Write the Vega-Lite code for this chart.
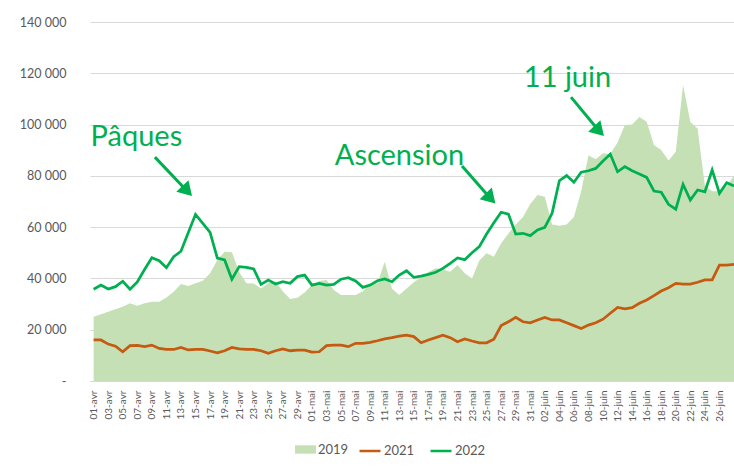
{
 "$schema": "https://vega.github.io/schema/vega-lite/v6.json",
 "width": 644,
 "height": 359,
 "autosize": {"type": "none"},
 "padding": {"left": 90, "top": 22, "right": 0, "bottom": 85},
 "background": "white",
 "config": {
  "view": {"stroke": null},
  "font": "Lato",
  "axis": {"labelFont": "Lato", "labelColor": "#595959", "title": null},
  "legend": {"labelFont": "Lato", "labelFontSize": 13, "labelColor": "#595959", "symbolSize": 441, "symbolStrokeWidth": 2.5, "labelOffset": 2, "columnPadding": 10, "padding": 0, "title": null}
 },
 "datasets": {
  "main": [
   {"date": "2022-04-01", "2019": 25100, "2021": 16000, "2022": 35800},
   {"date": "2022-04-02", "2019": 26000, "2021": 16000, "2022": 37400},
   {"date": "2022-04-03", "2019": 27000, "2021": 14400, "2022": 35900},
   {"date": "2022-04-04", "2019": 28000, "2021": 13600, "2022": 36800},
   {"date": "2022-04-05", "2019": 29000, "2021": 11400, "2022": 38900},
   {"date": "2022-04-06", "2019": 30300, "2021": 13800, "2022": 35800},
   {"date": "2022-04-07", "2019": 29300, "2021": 13900, "2022": 38600},
   {"date": "2022-04-08", "2019": 30300, "2021": 13400, "2022": 43500},
   {"date": "2022-04-09", "2019": 30900, "2021": 14000, "2022": 48100},
   {"date": "2022-04-10", "2019": 30900, "2021": 12700, "2022": 46900},
   {"date": "2022-04-11", "2019": 32600, "2021": 12300, "2022": 44200},
   {"date": "2022-04-12", "2019": 34800, "2021": 12300, "2022": 48500},
   {"date": "2022-04-13", "2019": 37800, "2021": 13100, "2022": 50600},
   {"date": "2022-04-14", "2019": 37000, "2021": 12100, "2022": 57800},
   {"date": "2022-04-15", "2019": 38100, "2021": 12300, "2022": 65000},
   {"date": "2022-04-16", "2019": 39100, "2021": 12300, "2022": 61500},
   {"date": "2022-04-17", "2019": 42000, "2021": 11700, "2022": 58000},
   {"date": "2022-04-18", "2019": 47200, "2021": 11000, "2022": 47900},
   {"date": "2022-04-19", "2019": 50400, "2021": 11800, "2022": 47200},
   {"date": "2022-04-20", "2019": 50200, "2021": 13100, "2022": 39700},
   {"date": "2022-04-21", "2019": 42500, "2021": 12500, "2022": 44600},
   {"date": "2022-04-22", "2019": 38100, "2021": 12300, "2022": 44300},
   {"date": "2022-04-23", "2019": 38000, "2021": 12300, "2022": 43700},
   {"date": "2022-04-24", "2019": 36100, "2021": 11800, "2022": 37700},
   {"date": "2022-04-25", "2019": 38100, "2021": 10800, "2022": 39400},
   {"date": "2022-04-26", "2019": 38700, "2021": 11800, "2022": 37800},
   {"date": "2022-04-27", "2019": 35000, "2021": 12500, "2022": 38700},
   {"date": "2022-04-28", "2019": 32000, "2021": 11800, "2022": 38100},
   {"date": "2022-04-29", "2019": 32500, "2021": 12000, "2022": 40700},
   {"date": "2022-04-30", "2019": 34500, "2021": 12000, "2022": 41300},
   {"date": "2022-05-01", "2019": 37500, "2021": 11300, "2022": 37400},
   {"date": "2022-05-02", "2019": 39000, "2021": 11400, "2022": 38100},
   {"date": "2022-05-03", "2019": 39400, "2021": 13800, "2022": 37400},
   {"date": "2022-05-04", "2019": 35500, "2021": 14000, "2022": 37700},
   {"date": "2022-05-05", "2019": 33500, "2021": 14000, "2022": 39700},
   {"date": "2022-05-06", "2019": 33500, "2021": 13400, "2022": 40300},
   {"date": "2022-05-07", "2019": 33500, "2021": 14700, "2022": 39000},
   {"date": "2022-05-08", "2019": 35000, "2021": 14700, "2022": 36500},
   {"date": "2022-05-09", "2019": 38000, "2021": 15100, "2022": 37400},
   {"date": "2022-05-10", "2019": 38000, "2021": 15700, "2022": 39100},
   {"date": "2022-05-11", "2019": 46500, "2021": 16400, "2022": 39800},
   {"date": "2022-05-12", "2019": 36000, "2021": 16900, "2022": 38700},
   {"date": "2022-05-13", "2019": 33500, "2021": 17500, "2022": 41300},
   {"date": "2022-05-14", "2019": 36100, "2021": 17900, "2022": 43000},
   {"date": "2022-05-15", "2019": 38500, "2021": 17300, "2022": 40400},
   {"date": "2022-05-16", "2019": 40500, "2021": 14900, "2022": 40900},
   {"date": "2022-05-17", "2019": 42500, "2021": 16000, "2022": 41600},
   {"date": "2022-05-18", "2019": 44000, "2021": 16900, "2022": 42400},
   {"date": "2022-05-19", "2019": 43500, "2021": 17900, "2022": 43900},
   {"date": "2022-05-20", "2019": 42600, "2021": 16900, "2022": 45900},
   {"date": "2022-05-21", "2019": 45200, "2021": 15300, "2022": 48000},
   {"date": "2022-05-22", "2019": 42000, "2021": 16400, "2022": 47300},
   {"date": "2022-05-23", "2019": 40000, "2021": 15600, "2022": 50000},
   {"date": "2022-05-24", "2019": 47000, "2021": 14900, "2022": 52400},
   {"date": "2022-05-25", "2019": 49800, "2021": 14900, "2022": 57300},
   {"date": "2022-05-26", "2019": 48500, "2021": 16300, "2022": 61700},
   {"date": "2022-05-27", "2019": 53700, "2021": 21600, "2022": 65800},
   {"date": "2022-05-28", "2019": 57500, "2021": 23100, "2022": 65100},
   {"date": "2022-05-29", "2019": 61000, "2021": 24800, "2022": 57300},
   {"date": "2022-05-30", "2019": 64000, "2021": 23100, "2022": 57600},
   {"date": "2022-05-31", "2019": 69000, "2021": 22700, "2022": 56700},
   {"date": "2022-06-01", "2019": 72500, "2021": 23800, "2022": 58900},
   {"date": "2022-06-02", "2019": 71900, "2021": 24800, "2022": 59900},
   {"date": "2022-06-03", "2019": 61000, "2021": 23800, "2022": 65400},
   {"date": "2022-06-04", "2019": 60500, "2021": 23800, "2022": 78100},
   {"date": "2022-06-05", "2019": 61000, "2021": 22700, "2022": 80100},
   {"date": "2022-06-06", "2019": 64000, "2021": 21600, "2022": 77500},
   {"date": "2022-06-07", "2019": 74000, "2021": 20500, "2022": 81400},
   {"date": "2022-06-08", "2019": 88000, "2021": 21800, "2022": 82000},
   {"date": "2022-06-09", "2019": 86500, "2021": 22700, "2022": 82900},
   {"date": "2022-06-10", "2019": 88800, "2021": 24100, "2022": 85800},
   {"date": "2022-06-11", "2019": 88500, "2021": 26400, "2022": 88500},
   {"date": "2022-06-12", "2019": 93000, "2021": 28700, "2022": 81600},
   {"date": "2022-06-13", "2019": 99800, "2021": 28100, "2022": 83600},
   {"date": "2022-06-14", "2019": 100000, "2021": 28600, "2022": 82000},
   {"date": "2022-06-15", "2019": 103000, "2021": 30300, "2022": 80700},
   {"date": "2022-06-16", "2019": 101100, "2021": 31600, "2022": 79400},
   {"date": "2022-06-17", "2019": 92000, "2021": 33300, "2022": 74100},
   {"date": "2022-06-18", "2019": 90100, "2021": 35100, "2022": 73600},
   {"date": "2022-06-19", "2019": 86000, "2021": 36400, "2022": 68900},
   {"date": "2022-06-20", "2019": 89400, "2021": 38100, "2022": 67000},
   {"date": "2022-06-21", "2019": 115400, "2021": 37800, "2022": 76700},
   {"date": "2022-06-22", "2019": 101000, "2021": 37800, "2022": 70600},
   {"date": "2022-06-23", "2019": 98500, "2021": 38500, "2022": 74500},
   {"date": "2022-06-24", "2019": 76000, "2021": 39400, "2022": 73800},
   {"date": "2022-06-25", "2019": 74000, "2021": 39400, "2022": 82300},
   {"date": "2022-06-26", "2019": 74000, "2021": 45200, "2022": 73200},
   {"date": "2022-06-27", "2019": 76000, "2021": 45200, "2022": 77300},
   {"date": "2022-06-28", "2019": 80000, "2021": 45500, "2022": 76000}
  ],
  "notes": [
   {"label": "Pâques", "date": "2022-04-06T21:00:00Z", "value": 91650},
   {"label": "Ascension", "date": "2022-05-13T00:40:00Z", "value": 84200},
   {"label": "11 juin", "date": "2022-06-05T02:50:00Z", "value": 114600}
  ],
  "arrows": [
   {"label": "Pâques", "date": "2022-04-09T10:00:00Z", "value": 87300, "date2": "2022-04-13T20:00:00Z", "value2": 74100},
   {"label": "Ascension", "date": "2022-05-21T15:00:00Z", "value": 83800, "date2": "2022-05-25T13:00:00Z", "value2": 71200},
   {"label": "11 juin", "date": "2022-06-05T14:30:00Z", "value": 110700, "date2": "2022-06-09T11:00:00Z", "value2": 97500}
  ],
  "tips": [
   {"label": "Pâques", "date": "2022-04-14T12:30:00Z", "value": 72100},
   {"label": "Ascension", "date": "2022-05-26T05:00:00Z", "value": 69200},
   {"label": "11 juin", "date": "2022-06-10T03:00:00Z", "value": 95500}
  ]
 },
 "encoding": {
  "x": {
   "field": "date", "type": "temporal", "title": null,
   "scale": {"type": "utc", "domain": [{"year": 2022, "month": 3, "date": 31, "hours": 12, "utc": true}, {"year": 2022, "month": 6, "date": 28, "utc": true}]},
   "axis": {
    "values": [
     {"year": 2022, "month": 4, "date": 1, "utc": true}, {"year": 2022, "month": 4, "date": 3, "utc": true}, {"year": 2022, "month": 4, "date": 5, "utc": true}, {"year": 2022, "month": 4, "date": 7, "utc": true}, {"year": 2022, "month": 4, "date": 9, "utc": true}, {"year": 2022, "month": 4, "date": 11, "utc": true}, {"year": 2022, "month": 4, "date": 13, "utc": true}, {"year": 2022, "month": 4, "date": 15, "utc": true}, {"year": 2022, "month": 4, "date": 17, "utc": true}, {"year": 2022, "month": 4, "date": 19, "utc": true}, {"year": 2022, "month": 4, "date": 21, "utc": true}, {"year": 2022, "month": 4, "date": 23, "utc": true}, {"year": 2022, "month": 4, "date": 25, "utc": true}, {"year": 2022, "month": 4, "date": 27, "utc": true}, {"year": 2022, "month": 4, "date": 29, "utc": true},
     {"year": 2022, "month": 5, "date": 1, "utc": true}, {"year": 2022, "month": 5, "date": 3, "utc": true}, {"year": 2022, "month": 5, "date": 5, "utc": true}, {"year": 2022, "month": 5, "date": 7, "utc": true}, {"year": 2022, "month": 5, "date": 9, "utc": true}, {"year": 2022, "month": 5, "date": 11, "utc": true}, {"year": 2022, "month": 5, "date": 13, "utc": true}, {"year": 2022, "month": 5, "date": 15, "utc": true}, {"year": 2022, "month": 5, "date": 17, "utc": true}, {"year": 2022, "month": 5, "date": 19, "utc": true}, {"year": 2022, "month": 5, "date": 21, "utc": true}, {"year": 2022, "month": 5, "date": 23, "utc": true}, {"year": 2022, "month": 5, "date": 25, "utc": true}, {"year": 2022, "month": 5, "date": 27, "utc": true}, {"year": 2022, "month": 5, "date": 29, "utc": true}, {"year": 2022, "month": 5, "date": 31, "utc": true},
     {"year": 2022, "month": 6, "date": 2, "utc": true}, {"year": 2022, "month": 6, "date": 4, "utc": true}, {"year": 2022, "month": 6, "date": 6, "utc": true}, {"year": 2022, "month": 6, "date": 8, "utc": true}, {"year": 2022, "month": 6, "date": 10, "utc": true}, {"year": 2022, "month": 6, "date": 12, "utc": true}, {"year": 2022, "month": 6, "date": 14, "utc": true}, {"year": 2022, "month": 6, "date": 16, "utc": true}, {"year": 2022, "month": 6, "date": 18, "utc": true}, {"year": 2022, "month": 6, "date": 20, "utc": true}, {"year": 2022, "month": 6, "date": 22, "utc": true}, {"year": 2022, "month": 6, "date": 24, "utc": true}, {"year": 2022, "month": 6, "date": 26, "utc": true}
    ],
    "labelExpr": "utcFormat(datum.value, '%d') + '-' + ['janv','févr','mars','avr','mai','juin','juil'][utcmonth(datum.value)]",
    "labelAngle": -90,
    "labelFontSize": 10,
    "labelPadding": 9,
    "ticks": false,
    "grid": false,
    "domain": true,
    "domainColor": "#d9d9d9",
    "labelOverlap": false,
    "labelBound": false,
    "labelFlush": false
   }
  },
  "y": {
   "field": "value", "type": "quantitative", "title": null,
   "scale": {"domain": [0, 140000], "nice": false},
   "axis": {
    "values": [0, 20000, 40000, 60000, 80000, 100000, 120000, 140000],
    "labelExpr": "datum.value == 0 ? '-\u00a0\u00a0\u00a0\u00a0' : replace(format(datum.value, ','), ',', ' ')",
    "labelFontSize": 12.5,
    "labelPadding": 24,
    "ticks": false,
    "domain": false,
    "grid": true,
    "gridColor": "#d9d9d9",
    "gridWidth": 1
   }
  }
 },
 "layer": [
  {
   "data": {"name": "main"},
   "transform": [{"fold": ["2019"], "as": ["series", "value"]}],
   "mark": {"type": "area", "opacity": 1},
   "encoding": {
    "fill": {
     "field": "series", "type": "nominal",
     "scale": {"domain": ["2019"], "range": ["#c5e0b4"]},
     "legend": {"orient": "none", "legendX": 205, "legendY": 417, "direction": "horizontal", "symbolType": "M-1,-0.4H1V0.4H-1Z", "symbolStrokeWidth": 0}
    }
   }
  },
  {
   "data": {"name": "main"},
   "transform": [{"fold": ["2021", "2022"], "as": ["series", "value"]}],
   "mark": {"type": "line", "strokeWidth": 2.75},
   "encoding": {
    "stroke": {
     "field": "series", "type": "nominal",
     "scale": {"domain": ["2021", "2022"], "range": ["#c55a11", "#00b050"]},
     "legend": {"orient": "none", "legendX": 268, "legendY": 417, "direction": "horizontal", "symbolType": "stroke", "symbolStrokeWidth": 2.5}
    }
   }
  },
  {
   "data": {"name": "arrows"},
   "mark": {"type": "rule", "color": "#00b050", "strokeWidth": 3},
   "encoding": {
    "x2": {"field": "date2"},
    "y2": {"field": "value2"}
   }
  },
  {
   "data": {"name": "tips"},
   "mark": {"type": "point", "shape": "M0,0L-0.6,-1L0.6,-1Z", "filled": true, "color": "#00b050", "opacity": 1, "size": 784, "strokeWidth": 0},
   "encoding": {
    "angle": {"value": 316.5}
   }
  },
  {
   "data": {"name": "notes"},
   "mark": {"type": "text", "font": "Lato", "fontSize": 29, "color": "#00b050", "align": "center", "baseline": "alphabetic"},
   "encoding": {
    "text": {"field": "label", "type": "nominal"}
   }
  }
 ]
}
